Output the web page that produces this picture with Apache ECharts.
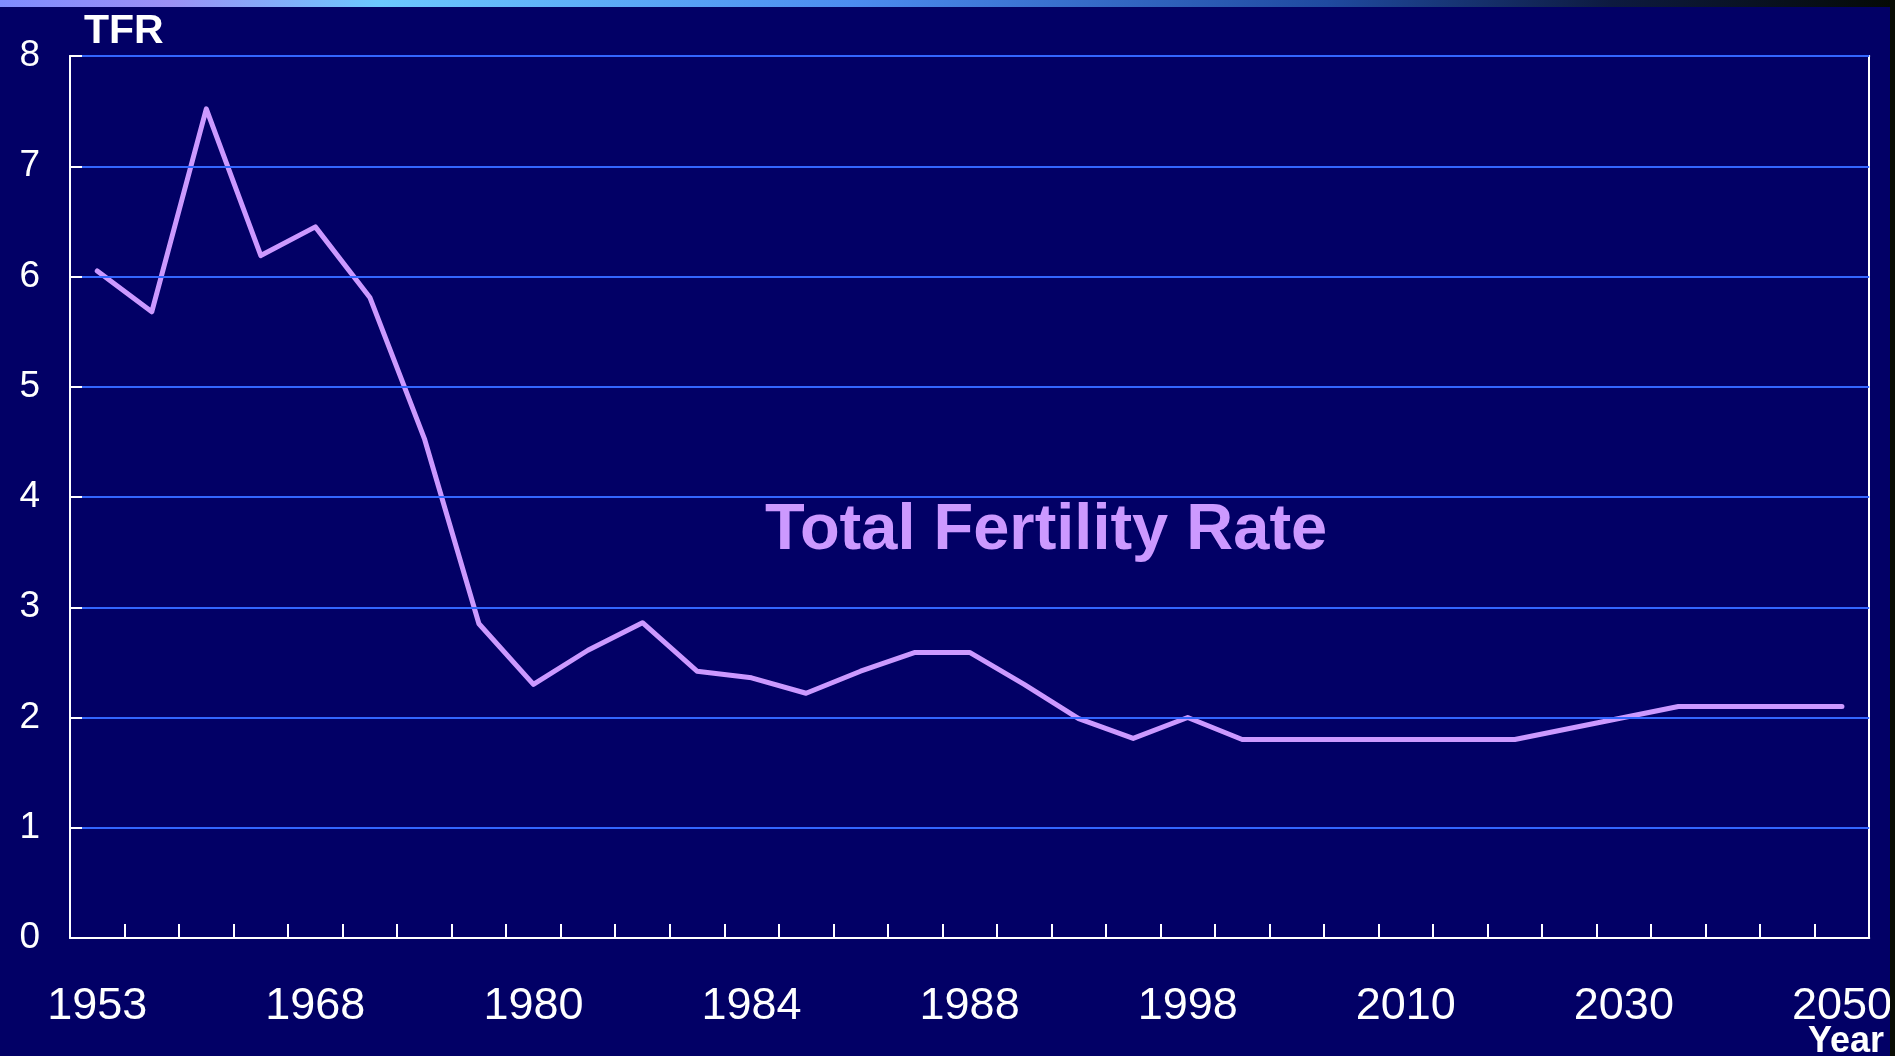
<!DOCTYPE html>
<html>
<head>
<meta charset="utf-8">
<script src="https://cdn.jsdelivr.net/npm/echarts@6/dist/echarts.min.js"></script>
<style>
    html, body {
        margin: 0;
        padding: 0;
        background-color: #020066;
    }

    #chart {
        width: 1895px;
        height: 1056px;
    }
</style>
</head>
<body>
<div id="chart"></div>
<script>
    // x axis: 33 periods, only every 4th one carries a label in the original
    var categories = ['1953', '', '', '', '1968', '', '', '', '1980', '', '', '',
        '1984', '', '', '', '1988', '', '', '', '1998', '', '', '',
        '2010', '', '', '', '2030', '', '', '', '2050'];
    // total fertility rate
    var tfr = [6.05, 5.68, 7.52, 6.19, 6.45, 5.81, 4.53, 2.85, 2.30, 2.61, 2.86, 2.42,
        2.36, 2.22, 2.42, 2.59, 2.59, 2.30, 1.99, 1.81, 2.00, 1.80, 1.80, 1.80,
        1.80, 1.80, 1.80, 1.90, 2.00, 2.10, 2.10, 2.10, 2.10];
    var yTicks = [0, 1, 2, 3, 4, 5, 6, 7, 8];

    var font = "'Liberation Sans', Arial, sans-serif";
    var myChart = echarts.init(document.getElementById('chart'));

    // plain axis used only to draw the top / right frame lines
    var frameAxis = {
        axisLine: {show: true, onZero: false, lineStyle: {color: '#ffffff', width: 2}},
        axisTick: {show: false},
        axisLabel: {show: false},
        splitLine: {show: false}
    };

    myChart.setOption({
        backgroundColor: '#020066',
        animation: false,
        title: {
            text: 'Total Fertility Rate',
            left: 760,
            top: 494,
            textStyle: {
                color: '#cc99ff',
                fontFamily: font,
                fontWeight: 'bold',
                fontSize: 65
            }
        },
        // top strip and right edge of the slide
        graphic: [
            {
                type: 'rect',
                shape: {x: 0, y: 0, width: 1895, height: 7},
                style: {
                    fill: new echarts.graphic.LinearGradient(0, 0, 1, 0, [
                        {offset: 0, color: '#7f8cff'},
                        {offset: 0.09, color: '#9c90f5'},
                        {offset: 0.2, color: '#6cc8ff'},
                        {offset: 0.45, color: '#4c8cf0'},
                        {offset: 0.7, color: '#1f4aa0'},
                        {offset: 0.85, color: '#0d1a40'},
                        {offset: 1, color: '#050a05'}
                    ])
                },
                z: 10
            },
            {
                type: 'rect',
                shape: {x: 1890, y: 0, width: 5, height: 1056},
                style: {fill: '#0a0d05'},
                z: 10
            },
            {
                type: 'text',
                left: 84,
                top: 11,
                style: {
                    text: 'TFR',
                    fill: '#ffffff',
                    font: 'bold 41px ' + font
                }
            },
            {
                type: 'text',
                left: 1808,
                top: 1024,
                style: {
                    text: 'Year',
                    fill: '#ffffff',
                    font: 'bold 36px ' + font
                }
            }
        ],
        grid: {
            left: 70,
            right: 25,
            top: 56,
            bottom: 118
        },
        xAxis: [
            {
                type: 'category',
                data: categories,
                boundaryGap: true,
                z: 5,
                axisLine: {lineStyle: {color: '#ffffff', width: 2}},
                axisTick: {
                    show: true,
                    inside: true,
                    length: 14,
                    interval: 0,
                    lineStyle: {color: '#ffffff', width: 2}
                },
                axisLabel: {
                    interval: 0,
                    margin: 46,
                    color: '#ffffff',
                    fontFamily: font,
                    fontSize: 45
                },
                splitLine: {show: false}
            },
            Object.assign({type: 'category', data: categories, position: 'top'}, frameAxis)
        ],
        yAxis: [
            {
                type: 'value',
                min: yTicks[0],
                max: yTicks[yTicks.length - 1],
                interval: 1,
                z: 5,
                axisLine: {show: true, lineStyle: {color: '#ffffff', width: 2}},
                axisTick: {
                    show: true,
                    inside: true,
                    length: 12,
                    lineStyle: {color: '#ffffff', width: 2}
                },
                axisLabel: {
                    margin: 30,
                    color: '#ffffff',
                    fontFamily: font,
                    fontSize: 37
                },
                splitLine: {
                    show: true,
                    lineStyle: {color: '#3366ff', width: 2}
                }
            },
            Object.assign({
                type: 'value', position: 'right',
                min: yTicks[0], max: yTicks[yTicks.length - 1], interval: 1
            }, frameAxis)
        ],
        series: [
            {
                name: 'Total Fertility Rate',
                type: 'line',
                data: tfr,
                symbol: 'none',
                lineStyle: {color: '#cc99ff', width: 5, cap: 'round', join: 'round'},
                z: 3
            }
        ]
    });
</script>
</body>
</html>
